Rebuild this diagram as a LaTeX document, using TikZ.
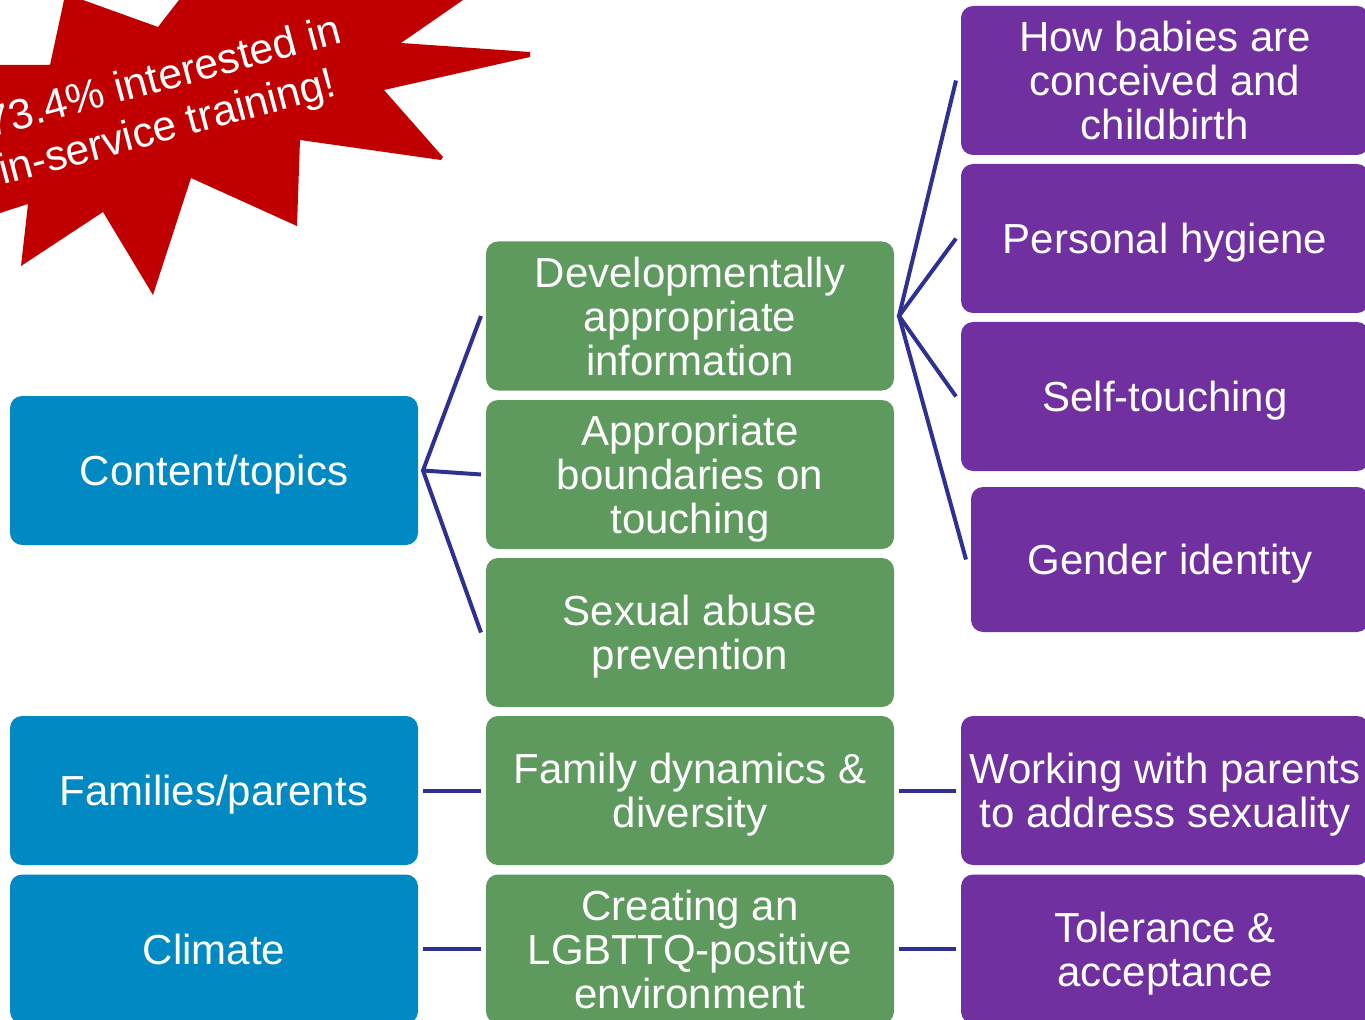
\documentclass[tikz,border=0pt]{standalone}
\usepackage{fontspec}
\setmainfont{Liberation Sans}
\definecolor{cblue}{RGB}{0,137,194}
\definecolor{cgreen}{RGB}{94,154,94}
\definecolor{cpurple}{RGB}{112,48,160}
\definecolor{cline}{RGB}{46,49,146}
\definecolor{cred}{RGB}{192,0,0}
\begin{document}
\begin{tikzpicture}[x=0.75pt,y=-0.75pt,
  box/.style={rounded corners=9pt, text=white, align=center, inner sep=0pt,
    outer xsep=3.75pt, outer ysep=0pt,
    minimum width=306pt, minimum height=111.75pt,
    font=\fontsize{31.5}{33}\selectfont, text depth=0pt},
  bluebox/.style={box, fill=cblue},
  greenbox/.style={box, fill=cgreen},
  purplebox/.style={box, fill=cpurple},
  conn/.style={draw=cline, line width=3pt}
]
\path[use as bounding box] (0,0) rectangle (1365,1020);
\clip (0,0) rectangle (1365,1020);

% starburst
\fill[cred] (-10,65) -- (50,65) -- (64,0) -- (64,-10) -- (83,-10) -- (83,0) -- (158,27) -- (179,0) -- (179,-10)
  -- (463,-10) -- (463,0) -- (401,43) -- (530,52) -- (530,57) -- (384,90) -- (443,157) -- (441,160)
  -- (300,140) -- (297,226) -- (191,178) -- (153,295) -- (103,212) -- (21,266) -- (28,204) -- (0,213) -- (-10,213) -- cycle;
\node[text=white, rotate=15, align=left, inner sep=0pt, anchor=base west, font=\fontsize{32}{37}\selectfont] (burst) at (3,185)
  {73.4\% interested in\\in-service training!};

% blue column
\node[bluebox] (ct)  at (214,470.5) {Content/topics};
\node[bluebox] (fam) at (214,790.5) {Families/parents};
\node[bluebox] (cli) at (214,949)   {Climate};

% green column
\node[greenbox] (dev) at (690,316)   {Developmentally\\appropriate\\information};
\node[greenbox] (app) at (690,474.5) {Appropriate\\boundaries on\\touching};
\node[greenbox] (sex) at (690,632.5) {Sexual abuse\\prevention};
\node[greenbox] (fd)  at (690,790.5) {Family dynamics \&\\diversity};
\node[greenbox] (cr)  at (690,949)   {Creating an\\LGBTTQ-positive\\environment};

% purple column
\node[purplebox] (how) at (1165,80.5)  {How babies are\\conceived and\\childbirth};
\node[purplebox] (ph)  at (1165,238.5) {Personal hygiene};
\node[purplebox] (st)  at (1165,396.5) {Self-touching};
\node[purplebox, minimum width=298.5pt, minimum height=108.75pt] (gi) at (1170,559.5) {Gender identity};
\node[purplebox] (wp)  at (1165,790.5) {Working with parents\\to address sexuality};
\node[purplebox] (tol) at (1165,949)   {Tolerance \&\\acceptance};

% connectors
\draw[conn] (dev.west) -- (ct.east) -- (sex.west);
\draw[conn] (ct.east) -- (app.west);
\draw[conn] (how.west) -- (dev.east) -- (gi.west);
\draw[conn] (ph.west) -- (dev.east) -- (st.west);
\draw[conn] (fam.east) -- (fd.west);
\draw[conn] (fd.east) -- (wp.west);
\draw[conn] (cli.east) -- (cr.west);
\draw[conn] (cr.east) -- (tol.west);
\end{tikzpicture}
\end{document}
